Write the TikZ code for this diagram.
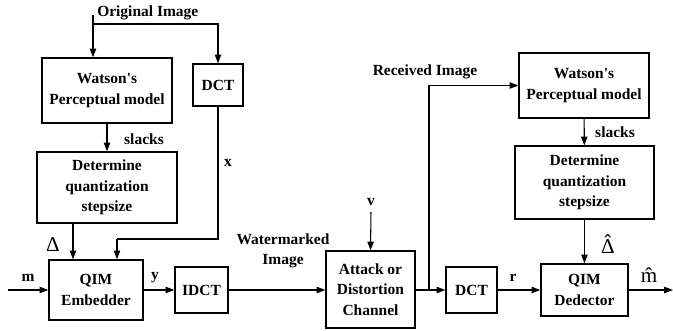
\documentclass[tikz,border=0pt]{standalone}
\usepackage{fontspec}
\setmainfont{Liberation Serif}
\usepackage{tikz}
\usetikzlibrary{arrows.meta,calc}

\tikzset{
  block/.style={draw, line width=0.9pt, font=\fontsize{11}{14.5}\selectfont\bfseries, align=center, inner sep=1pt},
  lbl/.style={font=\fontsize{11}{14.5}\selectfont\bfseries, inner sep=0pt},
  sym/.style={font=\fontsize{15}{16}\selectfont, inner sep=0pt},
  arr/.style={-{Triangle[length=2.2mm,width=1.6mm]}, line width=0.75pt},
  wire/.style={line width=0.75pt}
}

\begin{document}
\begin{tikzpicture}[x=0.025cm, y=-0.025cm]
  \useasboundingbox (0,0) rectangle (673,330);

  % Embedder side
  \node[block, minimum width=3.25cm, minimum height=1.625cm] (watsonA) at (107,90.5) {Watson\textquotesingle s\\Perceptual model};
  \node[block, minimum width=1.25cm, minimum height=1.05cm] (dctA) at (218,85) {DCT};
  \node[block, minimum width=3.5cm, minimum height=1.775cm] (detA) at (107,187.5) {Determine\\quantization\\stepsize};
  \node[block, minimum width=2.35cm, minimum height=1.5cm] (qimE) at (96,290) {QIM\\Embedder};
  \node[block, minimum width=1.325cm, minimum height=1.15cm] (idct) at (201.5,290) {IDCT};

  % Channel
  \node[block, minimum width=2.225cm, minimum height=1.925cm] (attack) at (370.5,289.5) {Attack or\\Distortion\\Channel};

  % Detector side
  \node[block, minimum width=3.25cm, minimum height=1.625cm] (watsonB) at (584,85.5) {Watson\textquotesingle s\\Perceptual model};
  \node[block, minimum width=3.475cm, minimum height=1.825cm] (detB) at (584.5,182.5) {Determine\\quantization\\stepsize};
  \node[block, minimum width=1.275cm, minimum height=1.15cm] (dctB) at (471.5,290) {DCT};
  \node[block, minimum width=2.175cm, minimum height=1.3cm] (qimD) at (584.5,290) {QIM\\Dedector};

  % free ends and bends
  \coordinate (origIn) at (93,15);
  \coordinate (origSplit) at (93,24);
  \coordinate (xBend) at (117,239);
  \coordinate (dPos) at (73,0);
  \coordinate (mIn) at (8,290);
  \coordinate (vIn) at (371,212);
  \coordinate (rxSplit) at (429,290);
  \coordinate (mOut) at (673,290);

  % connectors
  \draw[arr] (origIn) -- (origIn |- watsonA.north);
  \draw[arr] (origSplit) -| (dctA.north);
  \draw[arr] (watsonA) -- (detA);
  \draw[wire] (dctA.south) |- (xBend);
  \draw[arr] (xBend) -- (xBend |- qimE.north);
  \draw[arr] (detA.south -| dPos) -- (qimE.north -| dPos);
  \draw[arr] (mIn) -- (qimE.west);
  \draw[arr] (qimE) -- (idct);
  \draw[arr] (idct) -- (attack.west |- idct);
  \draw[arr] (vIn) -- (attack.north);
  \draw[arr] (attack.east |- dctB) -- (dctB.west);
  \draw[arr] (rxSplit) |- (watsonB.west);
  \draw[arr] (watsonB) -- (detB);
  \draw[arr] (detB) -- (qimD);
  \draw[arr] (dctB) -- (qimD);
  \draw[arr] (qimD.east) -- (mOut);

  % labels
  \node[lbl, anchor=west] (origLbl) at (97,13) {Original Image};
  \node[lbl] (slacksA) at (144,139) {slacks};
  \node[lbl] (xLbl) at (228,163) {x};
  \node[sym] (dLbl) at (53,245) {Δ};
  \node[lbl] (mLbl) at (28,278) {m};
  \node[lbl] (yLbl) at (155,278) {y};
  \node[lbl, align=center] (wmLbl) at (283,251) {Watermarked\\Image};
  \node[lbl] (vLbl) at (371,202) {v};
  \node[lbl] (rxLbl) at (425,72) {Received Image};
  \node[lbl] (slacksB) at (615,132) {slacks};
  \node[sym] (dhLbl) at (608,244) {\accent"02C6 Δ};
  \node[lbl] (rLbl) at (513,278) {r};
  \node[sym] (mhLbl) at (649,275) {\^{m}};
\end{tikzpicture}
\end{document}
